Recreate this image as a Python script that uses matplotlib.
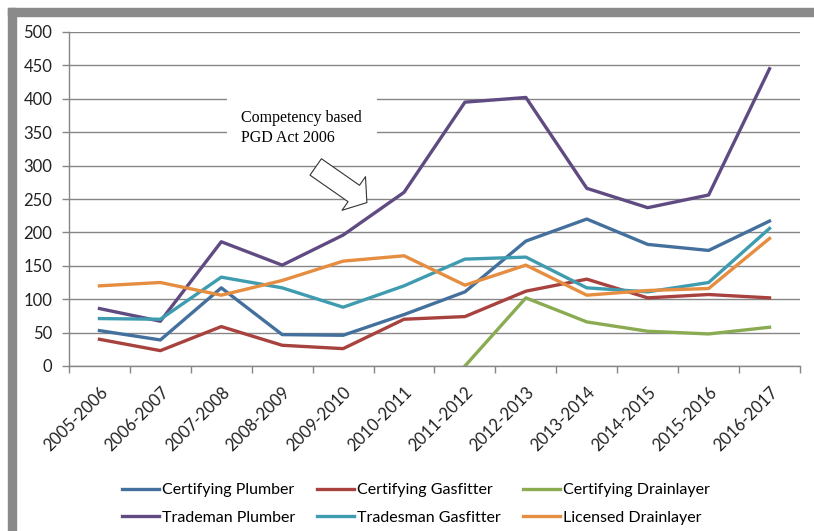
"""
Registrations by licence class, 2005-2017
"""
import numpy as np
import matplotlib
matplotlib.use('Agg')
import matplotlib.pyplot as plt
from matplotlib.patches import Rectangle

plt.rcParams['font.family'] = ['Lato', 'DejaVu Sans']

years = ['2005-2006', '2006-2007', '2007-2008', '2008-2009', '2009-2010', '2010-2011',
         '2011-2012', '2012-2013', '2013-2014', '2014-2015', '2015-2016', '2016-2017']
nan = np.nan
cert_plumber = [53, 39, 117, 47, 46, 77, 111, 187, 220, 182, 173, 217]
cert_gasfitter = [40, 23, 59, 31, 26, 70, 74, 112, 130, 102, 107, 102]
cert_drainlayer = [nan, nan, nan, nan, nan, nan, 0, 102, 66, 52, 48, 58]
trade_plumber = [86, 67, 186, 151, 196, 260, 395, 402, 266, 237, 256, 445]
trade_gasfitter = [71, 70, 133, 117, 88, 120, 160, 163, 117, 111, 125, 206]
lic_drainlayer = [120, 125, 106, 128, 157, 165, 121, 151, 106, 113, 116, 191]

fig = plt.figure(figsize=(8.14, 5.31), dpi=100)
ax = fig.add_axes([69/814, 1-366/531, 731/814, 334/531])

# grey frame (top + left edges)
fig.patches.append(Rectangle((8/814, 0), 8/814, 1-8/531, transform=fig.transFigure,
                             color='#8a8a8a', zorder=0))
fig.patches.append(Rectangle((8/814, 1-16/531), 1, 8/531, transform=fig.transFigure,
                             color='#8a8a8a', zorder=0))

x = np.arange(len(years))
lw = 2.4
l1, = ax.plot(x, cert_plumber, color='#44709d', lw=lw, label='Certifying Plumber')
l2, = ax.plot(x, cert_gasfitter, color='#a8423f', lw=lw, label='Certifying Gasfitter')
l3, = ax.plot(x, cert_drainlayer, color='#8aab52', lw=lw, label='Certifying Drainlayer')
l4, = ax.plot(x, trade_plumber, color='#5f4b82', lw=lw, label='Trademan Plumber')
l5, = ax.plot(x, trade_gasfitter, color='#3f9cb0', lw=lw, label='Tradesman Gasfitter')
l6, = ax.plot(x, lic_drainlayer, color='#e58d40', lw=lw, label='Licensed Drainlayer')

ax.set_xlim(-0.5, len(years) - 0.5)
ax.set_ylim(0, 500)
ax.set_yticks(range(0, 501, 50))
ax.set_xticks(x)
ax.set_xticklabels(years, rotation=45, ha='right', va='top', rotation_mode='anchor')
ax.set_xticks(np.arange(-0.5, len(years)), minor=True)
ax.tick_params(axis='x', which='major', length=0, pad=13, labelsize=12, labelcolor='#222222')
ax.tick_params(axis='x', which='minor', length=5, color='#868686', width=1)
ax.tick_params(axis='y', length=5, color='#868686', width=1, pad=7, labelsize=12,
               labelcolor='#222222')

ax.grid(axis='y', color='#868686', lw=1)
ax.set_axisbelow(True)
for s in ['top', 'right']:
    ax.spines[s].set_visible(False)
for s in ['left', 'bottom']:
    ax.spines[s].set_color('#868686')
    ax.spines[s].set_linewidth(1)

# annotation
ax.text(2.33, 383, 'Competency based\nPGD Act 2006', family='Liberation Serif', fontsize=11.5,
        ha='left', va='top', linespacing=1.3,
        bbox=dict(fc='white', ec='none', boxstyle='square,pad=0.9'), zorder=3)
ax.annotate('', xy=(4.39, 244.6), xytext=(3.55, 298),
            arrowprops=dict(arrowstyle='simple,head_length=11.5,head_width=29.5,tail_width=14.4',
                            mutation_scale=1, fc='white', ec='#333333', lw=0.8,
                            shrinkA=0, shrinkB=0), zorder=4)

fig.legend([l1, l4, l2, l5, l3, l6],
           [h.get_label() for h in [l1, l4, l2, l5, l3, l6]],
           ncol=3, loc='center', bbox_to_anchor=(416/814, 1-504/531), frameon=False,
           fontsize=11.5, handlelength=2.3, handletextpad=0.2, columnspacing=1.4,
           labelspacing=0.85)

fig.savefig('out.png', dpi=100)
